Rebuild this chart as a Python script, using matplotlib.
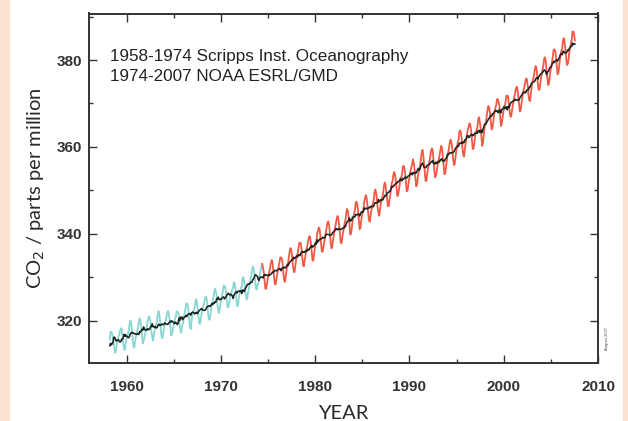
import numpy as np
import pandas as pd
import matplotlib
matplotlib.use("Agg")
import matplotlib.pyplot as plt
from matplotlib.patches import Rectangle
from matplotlib.ticker import MultipleLocator

# ---- data (monthly CO2, ppm) ----
scripps_start = (1958, 3)   # Scripps record: Mar 1958 - Apr 1974
co2_scripps = [
    315.71, 317.45, 317.50, 317.10, 315.86, 314.93, 313.20, 312.66, 313.33, 314.67,
    315.62, 316.38, 316.71, 317.72, 318.29, 318.15, 316.54, 314.80, 313.84, 313.26, 314.80, 315.58,
    316.43, 316.97, 317.58, 319.02, 320.03, 319.59, 318.18, 315.91, 314.16, 313.83, 315.00, 316.19,
    316.93, 317.70, 318.54, 319.48, 320.58, 319.77, 318.57, 316.79, 314.80, 315.38, 316.10, 317.01,
    317.94, 318.56, 319.68, 320.63, 321.01, 320.55, 319.58, 317.40, 316.26, 315.42, 316.69, 317.69,
    318.74, 319.08, 319.86, 321.39, 322.25, 321.47, 319.74, 317.77, 316.21, 315.99, 317.12, 318.31,
    319.57, 320.07, 320.73, 321.77, 322.25, 321.89, 320.44, 318.70, 316.70, 316.79, 317.79, 318.71,
    319.44, 320.44, 320.89, 322.13, 322.16, 321.87, 321.39, 318.81, 317.81, 317.30, 318.87, 319.42,
    320.62, 321.59, 322.39, 323.87, 324.01, 323.75, 322.39, 320.37, 318.64, 318.10, 319.79, 321.08,
    322.07, 322.50, 323.04, 324.42, 325.00, 324.09, 322.55, 320.92, 319.31, 319.31, 320.72, 321.96,
    322.57, 323.15, 323.89, 325.02, 325.57, 325.36, 324.14, 322.03, 320.41, 320.25, 321.31, 322.84,
    324.00, 324.42, 325.64, 326.66, 327.38, 326.70, 325.89, 323.67, 322.38, 321.78, 322.85, 324.11,
    325.03, 325.99, 326.87, 328.13, 328.07, 327.66, 326.35, 324.69, 323.10, 323.16, 323.98, 325.13,
    326.17, 326.68, 327.18, 327.78, 328.92, 328.57, 327.34, 325.46, 323.36, 323.57, 324.80, 326.01,
    326.77, 327.63, 327.75, 329.72, 330.07, 329.09, 328.05, 326.32, 324.93, 325.06, 326.50, 327.55,
    328.54, 329.56, 330.30, 331.50, 332.48, 332.07, 330.87, 329.31, 327.51, 327.18, 328.16, 328.64,
    329.35, 330.71, 331.48, 332.65,
]
noaa_start = (1974, 5)      # NOAA record: May 1974 - Jul 2007
co2_noaa = [
    333.09, 332.25, 331.18, 329.40, 327.43, 327.37, 328.46, 329.57,
    330.40, 331.40, 332.04, 333.31, 333.96, 333.59, 331.91, 330.06, 328.56, 328.34, 329.49, 330.76,
    331.75, 332.56, 333.50, 334.58, 334.57, 334.34, 333.05, 330.94, 329.30, 328.94, 330.31, 331.68,
    332.93, 333.42, 334.70, 336.07, 336.74, 336.27, 334.93, 332.75, 331.58, 331.16, 332.40, 333.85,
    334.97, 335.39, 336.64, 337.76, 338.01, 337.89, 336.54, 334.68, 332.76, 332.54, 333.92, 334.95,
    336.23, 336.76, 337.96, 338.89, 339.47, 339.29, 337.73, 336.09, 333.91, 333.86, 335.29, 336.73,
    338.01, 338.36, 340.08, 340.77, 341.46, 341.17, 339.56, 337.60, 335.88, 336.01, 337.10, 338.21,
    339.24, 340.48, 341.38, 342.51, 342.91, 342.25, 340.49, 338.43, 336.69, 336.85, 338.36, 339.61,
    340.75, 341.61, 342.70, 343.56, 344.13, 343.35, 342.06, 339.82, 337.97, 337.86, 339.26, 340.49,
    341.38, 342.52, 343.10, 344.94, 345.75, 345.32, 343.99, 342.39, 339.86, 339.99, 341.16, 342.99,
    343.82, 344.63, 345.40, 347.07, 347.43, 346.79, 345.40, 343.28, 341.07, 341.35, 342.98, 344.22,
    344.97, 345.99, 347.42, 348.35, 348.93, 348.25, 346.56, 344.69, 343.09, 342.80, 344.24, 345.56,
    346.29, 346.96, 347.86, 349.55, 350.21, 349.54, 347.94, 345.91, 344.86, 344.17, 345.66, 346.90,
    348.02, 348.47, 349.42, 350.99, 351.84, 351.25, 349.52, 348.10, 346.44, 346.36, 347.81, 348.96,
    350.43, 351.72, 352.22, 353.59, 354.22, 353.79, 352.39, 350.44, 348.72, 348.88, 350.07, 351.34,
    352.76, 353.07, 353.68, 355.42, 355.67, 355.13, 353.90, 351.67, 349.80, 349.99, 351.30, 352.52,
    353.66, 354.70, 355.39, 356.20, 357.16, 356.22, 354.82, 352.91, 350.96, 351.18, 352.83, 354.21,
    354.72, 355.75, 357.16, 358.60, 359.34, 358.24, 356.17, 354.03, 352.16, 352.21, 353.75, 354.99,
    355.99, 356.72, 357.81, 359.15, 359.66, 359.25, 357.02, 355.00, 353.01, 353.31, 354.16, 355.40,
    356.70, 357.16, 358.38, 359.46, 360.28, 359.60, 357.57, 355.52, 353.70, 353.98, 355.33, 356.80,
    358.36, 358.91, 359.97, 361.26, 361.68, 360.95, 359.55, 357.49, 355.84, 356.00, 357.59, 359.05,
    359.98, 361.03, 361.66, 363.48, 363.82, 363.30, 361.94, 359.50, 358.11, 357.80, 359.61, 360.74,
    362.09, 363.29, 364.06, 364.76, 365.45, 365.01, 363.70, 361.54, 359.51, 359.65, 360.80, 362.38,
    363.23, 364.06, 364.61, 366.40, 366.84, 365.68, 364.52, 362.57, 360.24, 360.83, 362.49, 364.34,
    365.27, 365.98, 367.24, 368.66, 369.42, 368.99, 367.82, 365.95, 364.02, 364.40, 365.52, 367.13,
    368.18, 369.07, 369.68, 370.99, 370.96, 370.30, 369.45, 366.90, 364.81, 365.37, 366.72, 368.10,
    369.29, 369.54, 370.60, 371.82, 371.58, 371.70, 369.86, 368.13, 367.00, 367.03, 368.37, 369.67,
    370.59, 371.51, 372.43, 373.37, 373.85, 373.21, 371.51, 369.61, 368.18, 368.45, 369.76, 371.24,
    372.53, 373.20, 374.12, 375.02, 375.76, 375.52, 374.01, 371.85, 370.75, 370.55, 372.25, 373.79,
    374.88, 375.64, 376.45, 377.73, 378.60, 378.28, 376.70, 374.38, 373.17, 373.14, 374.66, 375.99,
    377.00, 377.87, 378.88, 380.35, 380.62, 379.69, 377.47, 376.01, 374.25, 374.46, 376.16, 377.51,
    378.46, 379.73, 380.77, 382.29, 382.45, 382.21, 380.74, 378.74, 376.70, 377.00, 378.35, 380.11,
    381.38, 382.19, 382.67, 384.61, 385.03, 384.05, 382.46, 380.41, 378.85, 379.13, 380.15, 381.82,
    382.89, 383.90, 384.58, 386.50, 386.56, 386.10, 384.50,
]

x_ticks = [1960, 1970, 1980, 1990, 2000, 2010]
y_ticks = [320, 340, 360, 380]
annotation_lines = ["1958-1974 Scripps Inst. Oceanography", "1974-2007 NOAA ESRL/GMD"]


def decimal_years(start, n):
    y, m = start
    idx = (m - 1) + np.arange(n)
    return y + idx // 12 + ((idx % 12) + 0.5) / 12.0, (idx % 12) + 1


t_s, m_s = decimal_years(scripps_start, len(co2_scripps))
t_n, m_n = decimal_years(noaa_start, len(co2_noaa))
t_all = np.concatenate([t_s, t_n])
m_all = np.concatenate([m_s, m_n])
v_all = pd.Series(np.concatenate([co2_scripps, co2_noaa]))

# seasonally adjusted trend from the monthly record
rm = v_all.rolling(12, center=True, min_periods=12).mean()
detr = v_all - rm
clim = detr.groupby(m_all).mean()
trend = v_all.values - clim.loc[m_all].values

fig = plt.figure(figsize=(6.28, 4.21), dpi=100, facecolor="white")
peach = "#fbe3d0"
fig.patches.append(Rectangle((0, 0), 8.5 / 628, 1, transform=fig.transFigure, color=peach, zorder=-1))
fig.patches.append(Rectangle((622.5 / 628, 0), 6 / 628, 1, transform=fig.transFigure, color=peach, zorder=-1))

ax = fig.add_axes([89 / 628, 58 / 421, 509 / 628, 349.5 / 421])

ax.plot(np.append(t_s, t_n[0]), np.append(co2_scripps, co2_noaa[0]), color="#8ad6d2", lw=1.3, zorder=2)
ax.plot(t_n, co2_noaa, color="#f05a44", lw=1.3, zorder=3)
ax.plot(t_all, trend, color="#1e2522", lw=1.15, zorder=4)

ax.set_xlim(1956.0, 2010.0)
ax.set_ylim(310.3, 390.7)
ax.set_xticks(x_ticks)
ax.set_yticks(y_ticks)
ax.xaxis.set_minor_locator(MultipleLocator(5))
ax.yaxis.set_minor_locator(MultipleLocator(10))

tickfont = {"family": "Liberation Sans", "size": 11, "weight": "bold"}
ax.set_xticklabels([str(v) for v in x_ticks], fontdict=tickfont, color="#333333")
ax.set_yticklabels([str(v) for v in y_ticks], fontdict=tickfont, color="#333333")
ax.tick_params(which="both", direction="in", top=True, right=True, color="#333333", width=1.0)
ax.tick_params(which="major", length=6)
ax.tick_params(which="minor", length=3)
ax.tick_params(axis="x", pad=12)
ax.tick_params(axis="y", pad=5)
for sp in ax.spines.values():
    sp.set_linewidth(1.4)
    sp.set_color("#333333")

labfont = {"family": "Lato", "size": 14.5, "weight": "normal"}
ax.set_xlabel("YEAR", fontdict=labfont, color="#2a2a2a", labelpad=8)
ax.set_ylabel("CO$_2$ / parts per million", fontdict=labfont, color="#2a2a2a", labelpad=7)

for i, line in enumerate(annotation_lines):
    ax.text((110 - 89) / 509, (421 - 56.7 - 58 - i * 20) / 349.5, line, transform=ax.transAxes,
            fontsize=12.3, family="Liberation Sans", color="#222222", va="center", ha="left")

fig.text(607 / 628, (421 - 338) / 421, "August 2007", rotation=90, fontsize=3, color="#444444",
         ha="center", va="center", family="Liberation Sans")

fig.savefig("out.png", dpi=100, facecolor=fig.get_facecolor())
